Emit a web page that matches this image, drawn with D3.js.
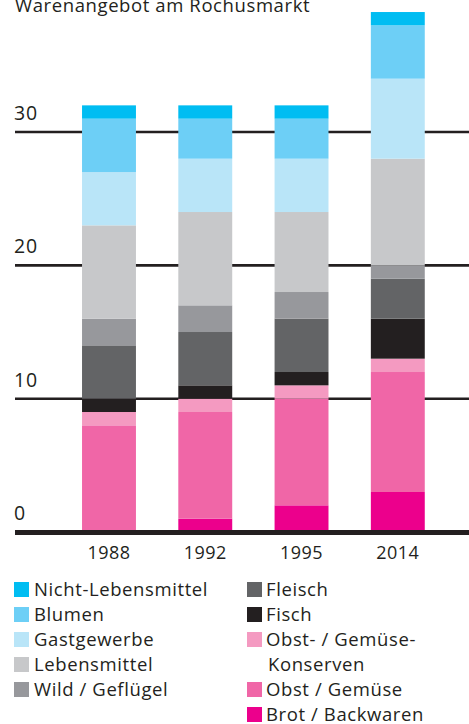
<!DOCTYPE html>
<html>
<head>
<meta charset="utf-8">
<script src="https://cdn.jsdelivr.net/npm/d3@7"></script>
<style>
  html, body { margin: 0; padding: 0; background: #fff; }
  svg { display: block; }
  text { font-family: "Open Sans", sans-serif; fill: #231f20; }
</style>
</head>
<body>
<svg id="chart" width="469" height="724"></svg>
<script>
// Market stalls per category and year (stack order: bottom to top)
const years = ["1988", "1992", "1995", "2014"];
const brot       = [0, 1, 2, 3];
const obst       = [8, 8, 8, 9];
const konserven  = [1, 1, 1, 1];
const fisch      = [1, 1, 1, 3];
const fleisch    = [4, 4, 4, 3];
const wild       = [2, 2, 2, 1];
const lebensm    = [7, 7, 6, 8];
const gastgew    = [4, 4, 4, 6];
const blumen     = [4, 3, 3, 4];
const nichtLeb   = [1, 1, 1, 1];
const yTicks = [0, 10, 20, 30];

const series = [
  { key: "brot",      label: "Brot / Backwaren",      values: brot,      color: "#ec008c" },
  { key: "obst",      label: "Obst / Gemüse",         values: obst,      color: "#f066a7" },
  { key: "konserven", label: "Obst- / Gemüse-\nKonserven", values: konserven, color: "#f49ac1" },
  { key: "fisch",     label: "Fisch",                 values: fisch,     color: "#231f20" },
  { key: "fleisch",   label: "Fleisch",               values: fleisch,   color: "#636466" },
  { key: "wild",      label: "Wild / Geflügel",       values: wild,      color: "#97989c" },
  { key: "lebensm",   label: "Lebensmittel",          values: lebensm,   color: "#c7c8ca" },
  { key: "gastgew",   label: "Gastgewerbe",           values: gastgew,   color: "#b9e5f8" },
  { key: "blumen",    label: "Blumen",                values: blumen,    color: "#6dcff6" },
  { key: "nichtLeb",  label: "Nicht-Lebensmittel",    values: nichtLeb,  color: "#00bdf2" }
];

const table = years.map((yr, i) => {
  const row = { year: yr };
  series.forEach(s => { row[s.key] = s.values[i]; });
  return row;
});

const svg = d3.select("#chart");

const x = d3.scaleBand().domain(years).range([33.9, 472.9]).paddingInner(0.44).paddingOuter(0.5);
const y = d3.scaleLinear().domain([0, 40]).range([532, -1.3]);
const color = d3.scaleOrdinal().domain(series.map(s => s.key)).range(series.map(s => s.color));

// Title
svg.append("text")
  .attr("x", 15).attr("y", 11.5)
  .style("font-size", "18.5px")
  .style("letter-spacing", "0.6px")
  .text("Warenangebot am Rochusmarkt");

// Gridlines (behind bars)
svg.append("g").selectAll("line")
  .data(yTicks.filter(d => d > 0))
  .join("line")
  .attr("x1", 15).attr("x2", 469)
  .attr("y1", d => y(d)).attr("y2", d => y(d))
  .attr("stroke", "#231f20").attr("stroke-width", 2.6);

// Tick labels
svg.append("g").selectAll("text")
  .data(yTicks)
  .join("text")
  .attr("x", 14).attr("y", d => y(d) - 12)
  .style("font-size", "19.5px")
  .style("letter-spacing", "0.8px")
  .text(d => d);

// Stacked bars
const stacked = d3.stack().keys(series.map(s => s.key))(table);
svg.append("g").selectAll("g")
  .data(stacked)
  .join("g")
  .attr("fill", d => color(d.key))
  .selectAll("rect")
  .data(d => d)
  .join("rect")
  .attr("x", d => x(d.data.year))
  .attr("width", x.bandwidth())
  .attr("y", d => y(d[1]))
  .attr("height", d => y(d[0]) - y(d[1]));

// Baseline
svg.append("line")
  .attr("x1", 15).attr("x2", 469)
  .attr("y1", y(0) + 0.5).attr("y2", y(0) + 0.5)
  .attr("stroke", "#231f20").attr("stroke-width", 5);

// Year labels
svg.append("g").selectAll("text")
  .data(years)
  .join("text")
  .attr("x", d => x(d) + x.bandwidth() / 2)
  .attr("y", 559)
  .attr("text-anchor", "middle")
  .style("font-size", "18px")
  .style("letter-spacing", "0.5px")
  .text(d => d);

// Legend: two columns, top category first
const col1 = ["nichtLeb", "blumen", "gastgew", "lebensm", "wild"];
const col2 = ["fleisch", "fisch", "konserven", "obst", "brot"];
const byKey = Object.fromEntries(series.map(s => [s.key, s]));
const lineH = 25;

function legendColumn(keys, sx, tx) {
  let row = 0;
  keys.forEach(k => {
    const s = byKey[k];
    const base = 596 + row * lineH;
    svg.append("rect")
      .attr("x", sx).attr("y", base - 14)
      .attr("width", 15).attr("height", 15)
      .attr("fill", s.color);
    const lines = s.label.split("\n");
    lines.forEach((ln, j) => {
      svg.append("text")
        .attr("x", tx + (j > 0 ? 2 : 0)).attr("y", base + j * lineH)
        .style("font-size", "18.5px")
        .style("letter-spacing", "0.6px")
        .text(ln);
    });
    row += lines.length;
  });
}
legendColumn(col1, 14, 34);
legendColumn(col2, 247, 266);
</script>
</body>
</html>
